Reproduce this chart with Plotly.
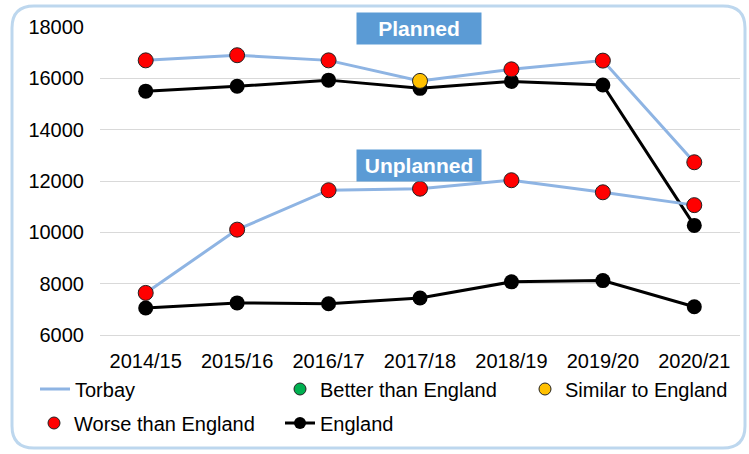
import plotly.graph_objects as go

# ---- data -------------------------------------------------------------
years = ["2014/15", "2015/16", "2016/17", "2017/18", "2018/19", "2019/20", "2020/21"]

torbay_planned = [16700, 16900, 16700, 15900, 16350, 16690, 12730]
england_planned = [15500, 15690, 15930, 15610, 15880, 15740, 10270]
torbay_planned_status = ["Worse", "Worse", "Worse", "Similar", "Worse", "Worse", "Worse"]

torbay_unplanned = [7640, 10105, 11640, 11700, 12030, 11560, 11060]
england_unplanned = [7050, 7250, 7220, 7440, 8070, 8120, 7100]
torbay_unplanned_status = ["Worse"] * 7

y_ticks = [6000, 8000, 10000, 12000, 14000, 16000, 18000]

# ---- styling ----------------------------------------------------------
FONT = "Liberation Sans, Arial, sans-serif"
TORBAY_BLUE = "#8EB4E3"
GRID = "#D9D9D9"
STATUS = {
    "Better": ("Better than England", "#00B050"),
    "Similar": ("Similar to England", "#FFC000"),
    "Worse": ("Worse than England", "#FF0000"),
}

W, H = 749, 454
L, R, T, B = 100, 9, 27, 119
PW, PH = W - L - R, H - T - B


def px(x):
    return (x - L) / PW


def py(y):
    return (H - B - y) / PH


fig = go.Figure()

# England lines (drawn underneath)
for vals in (england_planned, england_unplanned):
    fig.add_trace(go.Scatter(
        x=years, y=vals, mode="lines+markers",
        line=dict(color="black", width=3),
        marker=dict(color="black", size=15),
        showlegend=False, hoverinfo="skip",
    ))

# Torbay lines
for vals in (torbay_planned, torbay_unplanned):
    fig.add_trace(go.Scatter(
        x=years, y=vals, mode="lines",
        line=dict(color=TORBAY_BLUE, width=3),
        showlegend=False, hoverinfo="skip",
    ))

# Torbay markers coloured by comparison with England
for key, (label, colour) in STATUS.items():
    xs, ys = [], []
    for vals, status in ((torbay_planned, torbay_planned_status),
                         (torbay_unplanned, torbay_unplanned_status)):
        for yr, v, s in zip(years, vals, status):
            if s == key:
                xs.append(yr)
                ys.append(v)
    fig.add_trace(go.Scatter(
        x=xs, y=ys, mode="markers",
        marker=dict(color=colour, size=15, line=dict(color="#222222", width=1)),
        showlegend=False, hoverinfo="skip",
    ))

# Legend entries
def status_marker(key):
    return dict(mode="markers", marker=dict(color=STATUS[key][1], size=12,
                                            line=dict(color="#222222", width=1)))


legend_items = [
    ("Torbay", dict(mode="lines", line=dict(color=TORBAY_BLUE, width=3)), "legend"),
    (STATUS["Better"][0], status_marker("Better"), "legend2"),
    (STATUS["Similar"][0], status_marker("Similar"), "legend3"),
    (STATUS["Worse"][0], status_marker("Worse"), "legend4"),
    ("England", dict(mode="lines+markers", line=dict(color="black", width=3),
                     marker=dict(color="black", size=12)), "legend5"),
]
for name, style, lg in legend_items:
    fig.add_trace(go.Scatter(x=[None], y=[None], name=name, legend=lg,
                             showlegend=True, **style))

legend_pos = {
    "legend": (35, 389),
    "legend2": (280, 389),
    "legend3": (525, 389),
    "legend4": (34, 423),
    "legend5": (280, 423),
}
legend_layout = {}
for lg, (x, y) in legend_pos.items():
    legend_layout[lg] = dict(
        x=px(x), y=py(y), xanchor="left", yanchor="middle",
        bgcolor="rgba(0,0,0,0)", borderwidth=0,
        font=dict(family=FONT, size=20, color="black"),
    )

# Section labels
annotations = []
for text, yc in (("Planned", 28.5), ("Unplanned", 165.5)):
    annotations.append(dict(
        text=text, xref="paper", yref="paper", x=px(419), y=py(yc),
        xanchor="center", yanchor="middle", showarrow=False,
        width=124, height=31, borderpad=0,
        bgcolor="#5B9BD5",
        font=dict(family=FONT, size=21, color="white", weight="bold"),
    ))

# Rounded outer border
x0, x1, y0, y1 = px(12), px(745), py(448), py(6)
rx, ry = 22 / PW, 22 / PH
border = (f"M {x0 + rx},{y1} L {x1 - rx},{y1} Q {x1},{y1} {x1},{y1 - ry} "
          f"L {x1},{y0 + ry} Q {x1},{y0} {x1 - rx},{y0} "
          f"L {x0 + rx},{y0} Q {x0},{y0} {x0},{y0 + ry} "
          f"L {x0},{y1 - ry} Q {x0},{y1} {x0 + rx},{y1} Z")

fig.update_layout(
    width=W, height=H,
    margin=dict(l=L, r=R, t=T, b=B),
    paper_bgcolor="white", plot_bgcolor="white",
    font=dict(family=FONT, size=20, color="black"),
    annotations=annotations,
    shapes=[dict(type="path", path=border, xref="paper", yref="paper",
                 line=dict(color="#BDD7EE", width=3), layer="below")],
    **legend_layout,
)
fig.update_xaxes(
    type="category", range=[-0.5, len(years) - 0.5],
    showgrid=False, showline=True, linecolor=GRID, linewidth=1,
    ticks="", ticklabelstandoff=8,
    tickfont=dict(family=FONT, size=20, color="black"),
)
fig.update_yaxes(
    range=[6000, 18000], tickvals=y_ticks, ticktext=[str(v) for v in y_ticks],
    showgrid=True, gridcolor=GRID, gridwidth=1, zeroline=False,
    ticks="", ticklabelstandoff=15,
    tickfont=dict(family=FONT, size=20, color="black"),
)

fig.write_html("out.html")
